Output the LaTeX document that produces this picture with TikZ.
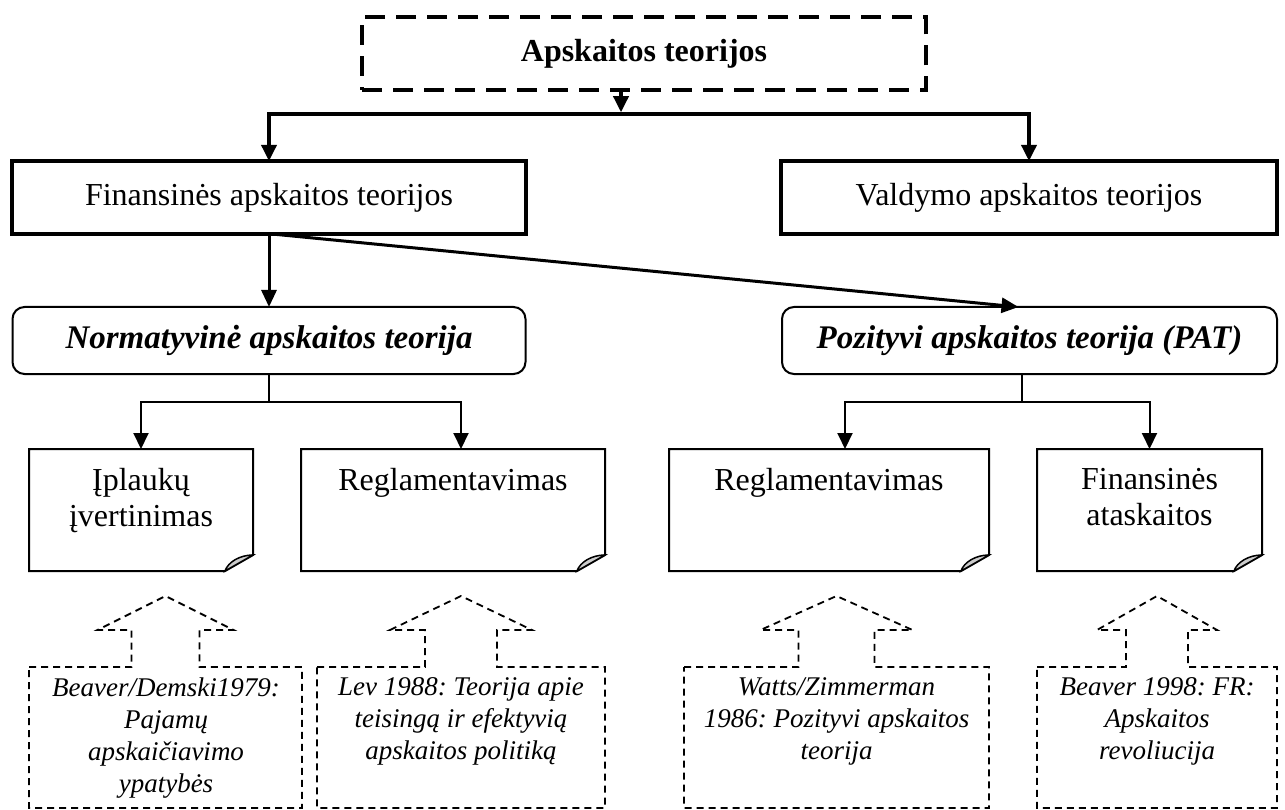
\documentclass[tikz,border=0pt]{standalone}
\usepackage{fontspec}
\setmainfont{Liberation Serif}
\usetikzlibrary{arrows.meta}
\frenchspacing
\begin{document}
\begin{tikzpicture}[x=1pt,y=-1pt,
  every node/.style={inner sep=0pt, outer sep=0pt},
  topbox/.style={draw, line width=4pt, dash pattern=on 20pt off 11pt, minimum width=564pt, minimum height=73pt, font=\fontsize{32}{36}\selectfont\bfseries},
  mainbox/.style={draw, line width=3.5pt, minimum height=73pt, font=\fontsize{32}{36}\selectfont},
  theorybox/.style={draw, line width=2pt, rounded corners=12pt, minimum height=67pt, font=\fontsize{33}{37}\selectfont\bfseries\itshape},
  notebox/.style={minimum height=122pt},
  notetext/.style={anchor=north, align=center, font=\fontsize{32}{36}\selectfont},
  refbox/.style={minimum height=141pt},
  reftext/.style={anchor=north, align=center, font=\fontsize{27}{32}\selectfont\itshape\frenchspacing},
  thickarrow/.style={line width=3.5pt, -{Triangle[length=16pt,width=15pt]}},
  midarrow/.style={line width=3pt, -{Triangle[length=17pt,width=15pt]}},
  thinline/.style={line width=2pt},
  thinarrow/.style={line width=2pt, -{Triangle[length=16pt,width=15pt]}},
  noteline/.style={line width=2pt},
  foldfill/.style={line width=1.5pt, fill=black!20},
  refline/.style={line width=1.8pt, dash pattern=on 7pt off 5pt},
]
\fill[white] (0,0) rectangle (1285,810);
\useasboundingbox (0,0) rectangle (1285,810);

% main boxes
\node[topbox] (top) at (644,54) {Apskaitos teorijos};
\node[mainbox, minimum width=514pt] (fin) at (269,197.5) {Finansinės apskaitos teorijos};
\node[mainbox, minimum width=496pt] (val) at (1029,197.5) {Valdymo apskaitos teorijos};
\node[theorybox, minimum width=513pt] (norm) at (269,340.5) {Normatyvinė apskaitos teorija};
\node[theorybox, minimum width=495pt] (poz) at (1029.5,340.5) {Pozityvi apskaitos teorija (PAT)};

% note boxes
\node[notebox, minimum width=224pt] (n1) at (141,510) {};
\node[notebox, minimum width=304pt] (n2) at (453,510) {};
\node[notebox, minimum width=320pt] (n3) at (829,510) {};
\node[notebox, minimum width=225pt] (n4) at (1149.5,510) {};
\node[notetext] (n1t) at (141,468) {Įplaukų\\įvertinimas};
\node[notetext] (n2t) at (453,468) {Reglamentavimas};
\node[notetext] (n3t) at (829,468) {Reglamentavimas};
\node[notetext] (n4t) at (1149.5,468) {Finansinės\\ataskaitos};
\foreach \n in {n1,n2,n3,n4}{
  \draw[noteline] (\n.north west) -- (\n.north east) -- ([yshift=16pt]\n.south east)
     -- ([xshift=-28pt]\n.south east) -- (\n.south west) -- cycle;
  \draw[foldfill] ([yshift=16pt]\n.south east) .. controls ([xshift=-13pt,yshift=16pt]\n.south east) and ([xshift=-25pt,yshift=9pt]\n.south east) .. ([xshift=-28pt]\n.south east) -- cycle;
}

% reference boxes
\node[refbox, minimum width=273pt] (r1) at (165.5,737.5) {};
\node[refbox, minimum width=288pt] (r2) at (461,737.5) {};
\node[refbox, minimum width=305pt] (r3) at (836.5,737.5) {};
\node[refbox, minimum width=240pt] (r4) at (1157,737.5) {};
\node[reftext] (r1t) at (166,678) {Beaver/Demski1979:\\Pajamų\\apskaičiavimo\\ypatybės};
\node[reftext] (r2t) at (461,678) {Lev 1988: Teorija apie\\teisingą ir efektyvią\\apskaitos politiką};
\node[reftext] (r3t) at (836.5,678) {Watts/Zimmerman\\1986: Pozityvi apskaitos\\teorija};
\node[reftext] (r4t) at (1157,678) {Beaver 1998: FR:\\Apskaitos\\revoliucija};
\foreach \r/\h/\s in {r1/68/34, r2/71/36, r3/76/38, r4/60/31}{
  \draw[refline] (\r.north west) -- ([xshift=-\s pt]\r.north) -- ([xshift=-\s pt, yshift=37pt]\r.north)
    -- ([xshift=-\h pt, yshift=37pt]\r.north) -- ([yshift=71pt]\r.north)
    -- ([xshift=\h pt, yshift=37pt]\r.north) -- ([xshift=\s pt, yshift=37pt]\r.north)
    -- ([xshift=\s pt]\r.north) -- (\r.north east) -- (\r.south east) -- (\r.south west) -- cycle;
}

% connectors
\coordinate (jt) at (621,114);
\draw[thickarrow, shorten >=1.75pt] (top.south -| jt) -- (jt);
\draw[thickarrow] (jt) -| (fin.north);
\draw[thickarrow] (jt) -| (val.north);
\draw[midarrow] (fin.south) -- (norm.north);
\draw[midarrow] ([xshift=3pt]fin.south) -- ([xshift=-11pt]poz.north);

\coordinate (nb) at (269,402);
\draw[thinline] (norm.south) -- (nb);
\draw[thinarrow] (nb) -| (n1.north);
\draw[thinarrow] (nb) -| ([xshift=8pt]n2.north);

\coordinate (pb) at (1022,402);
\draw[thinline] (poz.south -| pb) -- (pb);
\draw[thinarrow] (pb) -| ([xshift=16pt]n3.north);
\draw[thinarrow] (pb) -| (n4.north);
\end{tikzpicture}
\end{document}
